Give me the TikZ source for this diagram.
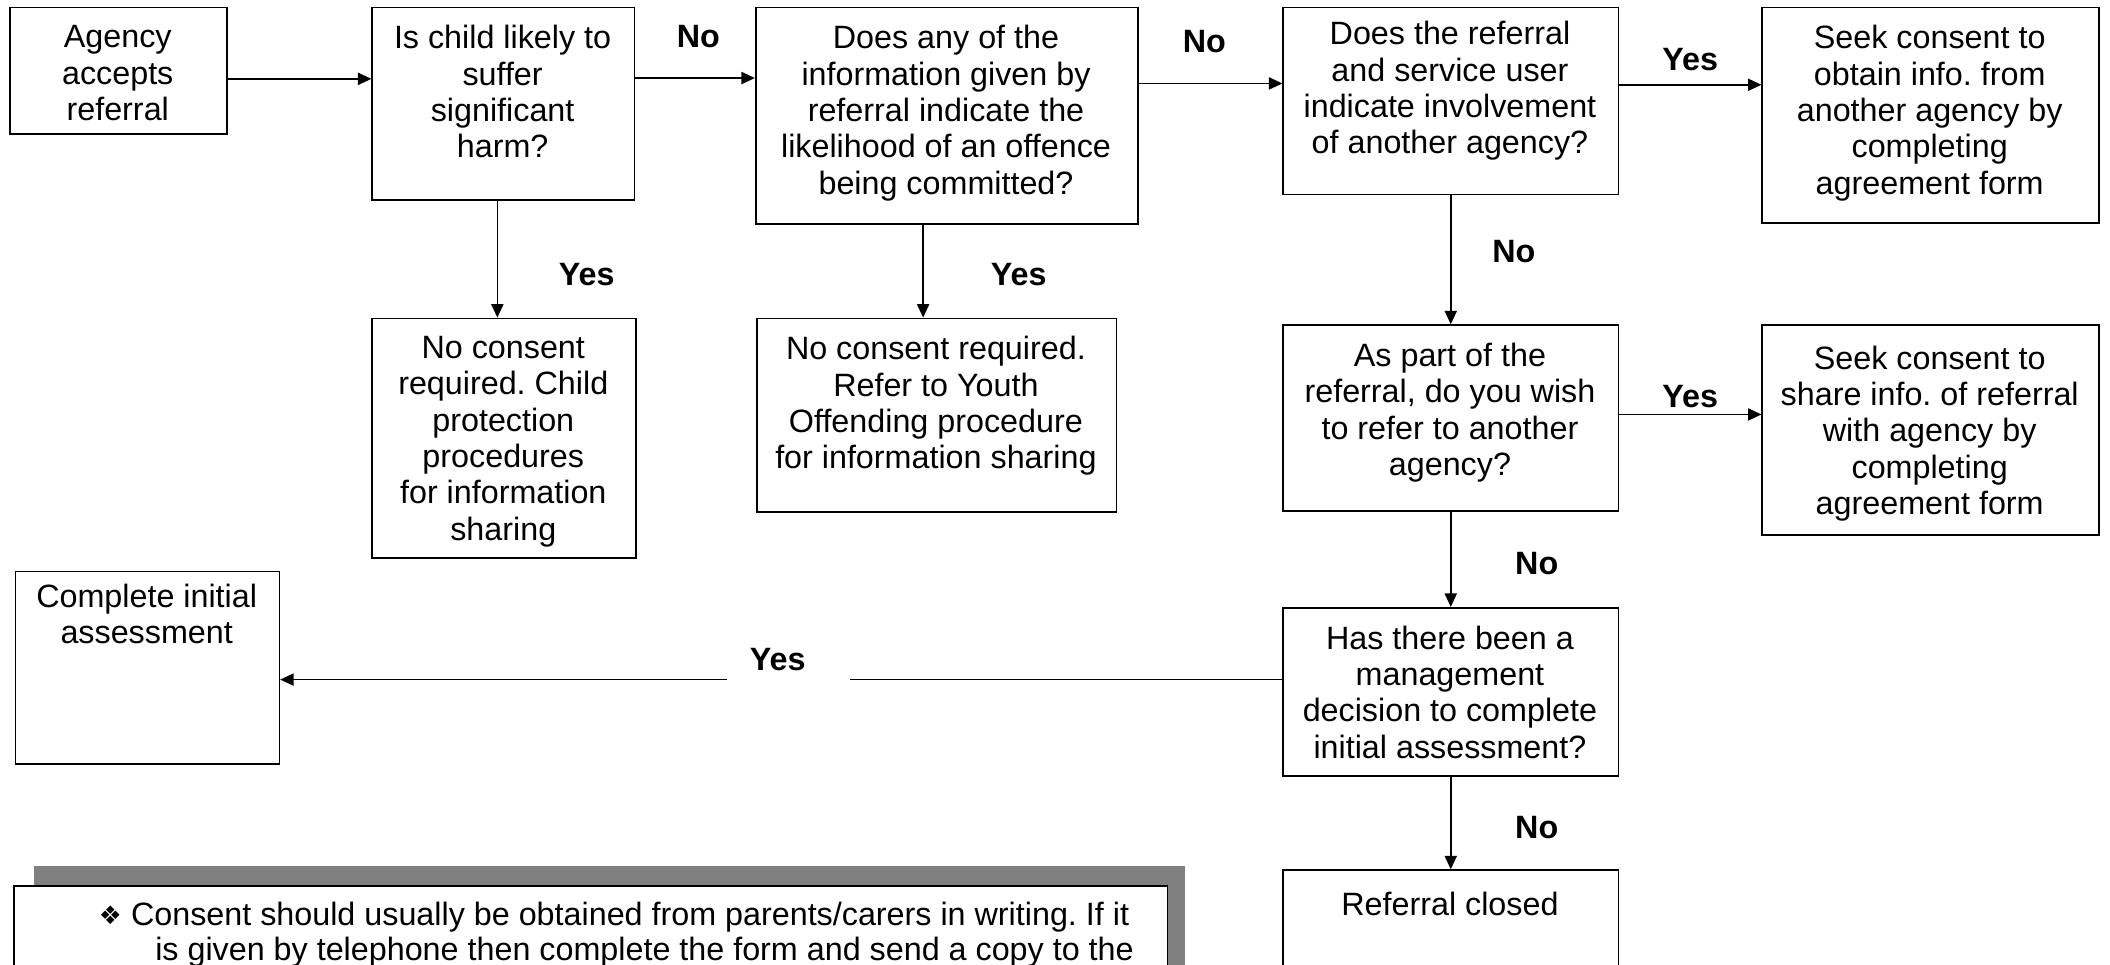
\documentclass[tikz,border=0pt]{standalone}
\usepackage{fontspec}
\setmainfont{Liberation Sans}
\newfontfamily\symfont{DejaVu Sans}
\usetikzlibrary{arrows.meta}
\frenchspacing
\begin{document}
\begin{tikzpicture}[x=0.5pt,y=-0.5pt,
  box/.style={draw,line width=0.6pt,inner sep=0,anchor=north west},
  txt/.style={align=center,inner sep=0,anchor=north,font=\fontsize{12}{13.5}\selectfont,execute at begin node=\rule{0pt}{9.5pt}},
  lab/.style={font=\fontsize{12}{13.5}\selectfont\bfseries,inner sep=0},
  arr/.style={line width=0.6pt,-{Triangle[length=5pt,width=4.5pt]}},
  ln/.style={line width=0.6pt}]
\useasboundingbox (0,0) rectangle (1568,717);
% boxes
\node[box,minimum width=80.5pt,minimum height=47pt] (A) at (7,5) {};
\node[txt] (At) at (87.5,18.6) {Agency\\accepts\\referral};
\node[box,minimum width=97.5pt,minimum height=71.5pt] (B) at (276,5) {};
\node[txt] (Bt) at (373.5,18.6) {Is child likely to\\suffer\\significant\\harm?};
\node[box,minimum width=142pt,minimum height=80.5pt] (C) at (561,5) {};
\node[txt] (Ct) at (703,18.6) {Does any of the\\information given by\\referral indicate the\\likelihood of an offence\\being committed?};
\node[box,minimum width=124.5pt,minimum height=69.5pt] (D) at (953,5) {};
\node[txt] (Dt) at (1077.5,15.6) {Does the referral\\and service user\\indicate involvement\\of another agency?};
\node[box,minimum width=125pt,minimum height=80pt] (E) at (1309,5) {};
\node[txt] (Et) at (1434,18.6) {Seek consent to\\obtain info. from\\another agency by\\completing\\agreement form};
\node[box,minimum width=98pt,minimum height=89pt] (F) at (276,236) {};
\node[txt] (Ft) at (374,249.6) {No consent\\required. Child\\protection\\procedures\\for information\\sharing};
\node[box,minimum width=133.5pt,minimum height=72pt] (G) at (562,236) {};
\node[txt] (Gt) at (695.5,249.6) {No consent required.\\Refer to Youth\\Offending procedure\\for information sharing};
\node[box,minimum width=124.5pt,minimum height=69pt] (H) at (953,241) {};
\node[txt] (Ht) at (1077.5,254.6) {As part of the\\referral, do you wish\\to refer to another\\agency?};
\node[box,minimum width=125pt,minimum height=78pt] (I) at (1309,241) {};
\node[txt] (It) at (1434,256.6) {Seek consent to\\share info. of referral\\with agency by\\completing\\agreement form};
\node[box,minimum width=124.5pt,minimum height=62.5pt] (J) at (953,451) {};
\node[txt] (Jt) at (1077.5,464.6) {Has there been a\\management\\decision to complete\\initial assessment?};
\node[box,minimum width=98pt,minimum height=71.5pt] (K) at (11,424) {};
\node[txt] (Kt) at (109,433.6) {Complete initial\\assessment};
\node[box,minimum width=124.5pt,minimum height=50pt] (L) at (953,646) {};
\node[txt] (Lt) at (1077.5,660.6) {Referral closed};
% note box
\node[inner sep=0,anchor=north west,fill={rgb,255:red,128;green,128;blue,128},minimum width=427.5pt,minimum height=50pt] (S) at (25,643) {};
\node[box,fill=white,minimum width=428.5pt,minimum height=50pt] (N) at (10,658) {};
\node[inner sep=0,font=\symfont\fontsize{9.5}{12}\selectfont] (Nb) at (82,680) {❖};
\node[inner sep=0,anchor=base west,font=\fontsize{12}{13.5}\selectfont] (N1) at (97,687.5) {Consent should usually be obtained from parents/carers in writing. If it};
\node[inner sep=0,anchor=base west,font=\fontsize{12}{13.5}\selectfont] (N2) at (115,713.5) {is given by telephone then complete the form and send a copy to the};
% connectors
\draw[arr] ([yshift=-3pt]A.east) -- ([yshift=-3pt]A.east -| B.west);
\draw[arr] ([yshift=-26.5pt]B.north east) -- ([yshift=-26.5pt]B.north east -| C.west);
\draw[arr] ([yshift=-28.5pt]C.north east) -- ([yshift=-28.5pt]C.north east -| D.west);
\draw[arr] ([yshift=-29pt]D.north east) -- ([yshift=-29pt]D.north east -| E.west);
\draw[arr] ([xshift=-2.25pt]B.south) -- ([xshift=-2.25pt]B.south |- F.north);
\draw[arr] ([xshift=62.5pt]C.south west) -- ([xshift=62.5pt]C.south west |- G.north);
\draw[arr] (D.south) -- (H.north);
\draw[arr] ([yshift=-33.5pt]H.north east) -- ([yshift=-33.5pt]H.north east -| I.west);
\draw[arr] (H.south) -- (J.north);
\draw[arr] ([yshift=-27pt]J.north west) -- ([yshift=-27pt]J.north west -| K.east);
\draw[arr] (J.south) -- (L.north);
% labels
\node[lab] (l1) at (519,27) {No};
\node[lab] (l2) at (895,31) {No};
\node[lab] (l3) at (1256,44) {Yes};
\node[lab] (l4) at (436,204) {Yes};
\node[lab] (l5) at (757,204) {Yes};
\node[lab] (l6) at (1125,187) {No};
\node[lab] (l7) at (1256,295) {Yes};
\node[lab] (l8) at (1142,419) {No};
\node[inner sep=0,fill=white,minimum width=45.5pt,minimum height=13pt] (p9) at (586,493) {};
\node[lab] (l9) at (578,490) {Yes};
\node[lab] (l10) at (1142,615) {No};
\end{tikzpicture}
\end{document}
